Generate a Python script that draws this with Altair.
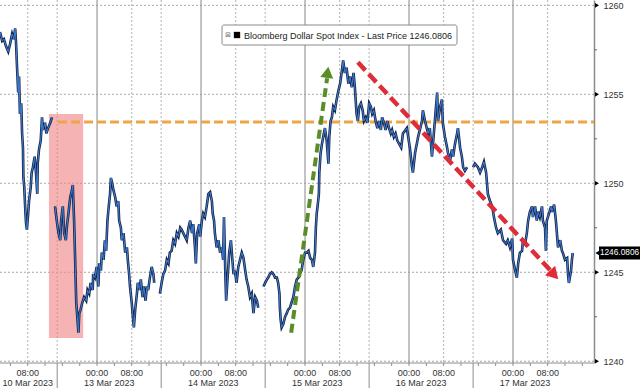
import altair as alt
import pandas as pd
import numpy as np

# ---- price series (x = chart hours from 13 Mar 00:00, weekend removed) ----
hours = [
    -22.4, -21.9, -21.5, -21.0, -20.5, -20.1, -19.6, -19.2, -18.9, -18.7,
    -18.5, -18.2, -18.0, -17.8, -17.5, -17.3, -17.1, -17.0, -16.8, -16.6,
    -16.4, -16.2, -15.9, -15.7, -15.3, -15.1, -14.8, -14.4, -14.1, -13.8,
    -13.7, -13.4, -13.0, -12.7, -12.5, -12.0, -11.7, -11.3, -10.8, -10.4,
    -9.7, -9.3, -8.9, -8.5, -8.3, -7.9, -7.6, -7.2, -7.0, -6.6,
    -6.2, -5.8, -5.6, -5.5, -5.3, -5.1, -4.9, -4.8, -4.5, -4.3,
    -4.1, -3.8, -3.4, -3.0, -2.5, -2.2, -1.8, -1.5, -1.0, -0.9,
    -0.5, -0.1, 0.3, 0.5, 0.9, 1.1, 1.5, 1.8, 2.1, 2.4,
    2.7, 3.0, 3.2, 3.5, 3.8, 4.2, 4.5, 4.9, 5.1, 5.5,
    5.7, 6.1, 6.5, 6.9, 7.1, 7.4, 7.6, 8.0, 8.2, 8.5,
    8.8, 9.2, 9.4, 9.8, 10.1, 10.5, 10.8, 11.2, 11.5, 11.8,
    12.2, 12.6, 13.0, 13.2,
    14.5, 14.9, 15.3, 15.7, 16.1, 16.5, 16.8, 17.2, 17.6, 18.0,
    18.4, 18.8, 19.2, 19.5, 19.9, 20.3, 20.7, 21.1, 21.5, 21.9,
    22.2, 22.6, 22.8, 23.1, 23.6, 23.8, 24.2, 24.5, 24.9, 25.3,
    25.7, 26.1, 26.5, 26.7, 27.0, 27.2, 27.6, 28.0, 28.4, 28.8,
    29.1, 29.3, 29.6, 29.8, 30.1, 30.3, 30.5, 30.9, 31.1, 31.5,
    31.8, 32.2, 32.6, 33.0, 33.4, 33.8, 34.2, 34.5, 34.9, 35.3,
    35.7, 36.1, 36.5, 36.9, 37.2,
    38.4, 38.8, 39.2, 39.5, 39.9, 40.3, 40.7, 41.1, 41.5, 41.8,
    42.1, 42.2, 42.4, 42.6, 43.0, 43.4, 43.8, 44.1, 44.5, 44.9,
    45.3, 45.7, 46.1, 46.5, 46.8, 47.2, 47.6, 48.0, 48.4, 48.8,
    49.2, 49.6, 49.9, 50.3, 50.5, 50.7, 50.9, 51.2, 51.3, 51.6,
    51.9, 52.2, 52.6, 53.0, 53.4, 53.6, 53.9, 54.2, 54.5, 54.9,
    55.3, 55.7, 56.1, 56.5, 56.8, 57.2, 57.6, 58.0, 58.4, 58.8,
    59.2, 59.5, 59.9, 60.2, 60.5, 60.9, 61.3, 61.6, 62.0, 62.4,
    62.8, 63.2, 63.5, 63.9, 64.3, 64.7, 65.1, 65.5, 65.8, 66.2,
    66.6, 67.0, 67.4, 67.8, 68.1, 68.5, 68.9, 69.3, 70.2, 70.6,
    71.5, 72.2, 72.7, 72.9, 73.4, 74.1, 74.5, 75.0, 75.2, 75.7,
    76.4, 76.8, 77.3, 77.8, 78.5, 78.7, 79.2, 79.6, 79.8, 80.3,
    80.8, 81.0, 81.5, 81.9, 82.2, 82.6, 83.1, 83.3, 83.8, 84.2,
    84.5, 84.9, 85.4,
    86.8, 87.2, 87.9, 88.4, 88.9, 89.3, 89.8, 90.2, 90.7, 91.2,
    91.6, 92.1, 92.5, 93.2, 93.7, 94.4, 94.8, 95.3, 95.8, 96.0,
    96.5, 96.9, 97.2, 97.6, 98.1, 98.3, 98.8, 99.2, 99.5, 99.9,
    100.4, 100.6, 101.1, 101.5, 101.8, 102.2, 102.7, 102.9, 103.4, 103.6,
    103.8, 104.3, 104.8, 105.0, 105.5, 105.9, 106.2, 106.4, 106.9, 107.3,
    107.5, 108.0, 108.5, 108.7, 108.9, 109.4, 109.6, 109.8,
]
price = [
    1258.5, 1258.0, 1258.1, 1257.7, 1257.4, 1257.8, 1258.4, 1258.1, 1258.7, 1257.9,
    1256.7, 1255.1, 1256.0, 1253.9, 1254.5, 1252.8, 1252.0, 1250.3, 1249.8, 1248.7,
    1247.8, 1247.4, 1248.3, 1249.0, 1249.8, 1250.6, 1250.9, 1251.5, 1250.6, 1249.4,
    1251.1, 1251.9, 1252.4, 1253.7, 1253.0, 1253.4, 1252.8, 1253.1, 1253.4, 1253.7,
    1248.7, 1247.9, 1247.2, 1246.8, 1247.9, 1248.7, 1247.2, 1246.8, 1247.5, 1248.3,
    1249.2, 1249.6, 1249.9, 1249.2, 1247.9, 1246.1, 1244.2, 1243.3, 1242.3, 1241.6,
    1242.7, 1242.9, 1243.3, 1243.6, 1243.4, 1244.0, 1243.8, 1244.4, 1244.0, 1244.9,
    1244.7, 1245.3, 1244.2, 1245.5, 1245.1, 1246.1, 1245.7, 1246.8, 1246.2, 1247.9,
    1248.7, 1249.4, 1250.3, 1250.0, 1249.6, 1249.2, 1248.7, 1249.0, 1247.9, 1247.5,
    1246.8, 1247.2, 1246.1, 1246.4, 1245.7, 1244.9, 1244.2, 1243.3, 1242.7, 1241.9,
    1242.9, 1243.8, 1244.4, 1244.0, 1244.6, 1243.6, 1244.2, 1243.4, 1244.2, 1244.0,
    1244.7, 1245.3, 1244.9, 1244.4,
    1243.8, 1244.4, 1244.9, 1245.1, 1245.7, 1245.5, 1246.1, 1246.2, 1246.8, 1246.6,
    1247.2, 1247.0, 1247.5, 1247.4, 1247.2, 1247.0, 1246.8, 1247.5, 1247.9, 1247.2,
    1247.7, 1246.4, 1245.5, 1247.2, 1247.7, 1247.0, 1247.9, 1248.3, 1248.1, 1248.7,
    1249.4, 1249.5, 1249.0, 1248.3, 1247.9, 1247.2, 1246.4, 1246.8, 1246.1, 1246.4,
    1245.7, 1248.1, 1245.0, 1243.4, 1244.6, 1245.3, 1246.1, 1246.8, 1246.1, 1244.9,
    1245.1, 1244.4, 1245.3, 1245.7, 1246.1, 1245.8, 1245.1, 1244.6, 1244.2, 1243.6,
    1243.8, 1242.7, 1243.6, 1243.4, 1243.0,
    1244.2, 1244.4, 1244.6, 1244.7, 1244.9, 1245.0, 1244.9, 1244.7, 1244.7, 1244.4,
    1243.8, 1243.0, 1242.3, 1241.9, 1242.1, 1242.5, 1242.7, 1242.9, 1243.0, 1243.3,
    1243.6, 1244.2, 1244.6, 1244.7, 1244.9, 1245.1, 1245.7, 1246.1, 1246.1, 1246.2,
    1245.8, 1245.7, 1245.3, 1246.1, 1247.5, 1248.3, 1248.7, 1249.4, 1250.6, 1251.7,
    1252.2, 1252.6, 1253.1, 1252.4, 1251.1, 1252.6, 1253.5, 1253.7, 1254.3, 1254.1,
    1254.7, 1255.2, 1255.6, 1256.3, 1256.9, 1256.2, 1256.5, 1255.6, 1256.0, 1255.4,
    1256.2, 1255.4, 1253.9, 1253.5, 1254.3, 1254.5, 1254.1, 1253.5, 1253.7, 1253.4,
    1254.5, 1254.3, 1253.9, 1254.1, 1253.5, 1253.1, 1253.5, 1253.0, 1253.7, 1253.4,
    1253.0, 1253.5, 1253.1, 1252.8, 1253.0, 1252.6, 1252.8, 1252.4, 1252.0, 1252.8,
    1253.1, 1252.0, 1250.9, 1250.6, 1251.7, 1252.6, 1253.0, 1253.5, 1254.1, 1253.5,
    1252.8, 1253.1, 1251.5, 1253.0, 1255.1, 1253.5, 1254.3, 1254.7, 1253.4, 1252.6,
    1252.0, 1251.7, 1251.3, 1251.9, 1251.5, 1252.2, 1252.8, 1253.1, 1252.0, 1251.5,
    1250.9, 1250.7, 1250.9,
    1250.9, 1251.1, 1250.9, 1250.6, 1250.9, 1251.2, 1250.6, 1249.4, 1249.0, 1248.7,
    1248.1, 1247.5, 1247.2, 1247.4, 1246.8, 1246.6, 1246.8, 1246.4, 1246.9, 1245.7,
    1245.1, 1244.7, 1245.5, 1246.1, 1246.2, 1246.8, 1246.6, 1247.2, 1247.9, 1248.4,
    1248.7, 1248.1, 1248.7, 1247.9, 1248.4, 1248.1, 1248.7, 1247.9, 1247.5, 1246.2,
    1247.9, 1248.3, 1248.7, 1248.4, 1248.8, 1247.9, 1247.0, 1246.4, 1246.8, 1246.2,
    1246.1, 1245.7, 1245.8, 1244.9, 1244.4, 1245.1, 1245.7, 1246.0806,
]
session_starts = [-9.7, 14.5, 38.4, 86.8]

# ---- axes / labels ----
y_ticks = [1240, 1245, 1250, 1255, 1260]
y_minor = [1242.5, 1247.5, 1252.5, 1257.5]
x_ticks = list(range(-20, 113, 4))
time_pos = [-16, 0, 8, 24, 32, 48, 56, 72, 80, 96, 104]
time_labels = ["08:00", "00:00", "08:00", "00:00", "08:00", "00:00", "08:00", "00:00", "08:00", "00:00", "08:00"]
midnights = [0, 24, 48, 72, 96]
eights = [-16, 8, 32, 56, 80, 104]
separators = [-9.2, 14.8, 38.8, 62.8, 86.8]
day_labels = ["10 Mar 2023", "13 Mar 2023", "14 Mar 2023", "15 Mar 2023", "16 Mar 2023", "17 Mar 2023"]
day_centers = [-16.0, 2.8, 26.8, 50.8, 74.8, 98.8]
legend_text = "Bloomberg Dollar Spot Index - Last Price 1246.0806"
last_price = 1246.0806
last_label = "1246.0806"

# ---- annotations ----
level = 1253.45
level_t = [-9.0, 114.7]
box_t = [-11.1, -3.2]
box_v = [1241.3, 1253.9]
green_t = [44.8, 53.1]
green_v = [1241.6, 1255.9]
green_head = [53.2, 1256.24]
red_t = [60.2, 104.8]
red_v = [1256.8, 1245.06]
red_head = [105.5, 1244.85]

W, H = 594, 363
FONT = "Liberation Sans"
AXIS_GRAY = "#8c8c8c"
xs = alt.Scale(domain=[-22.4, 114.7], nice=False, zero=False)
ys = alt.Scale(domain=[1239.9, 1260.3], nice=False, zero=False)

seg = np.searchsorted(np.array(session_starts), np.array(hours), side="right")
df = pd.DataFrame({"t": hours, "v": price, "seg": seg})

y_axis = alt.Axis(orient="right", values=y_ticks, title=None, grid=False, ticks=False,
                  domainColor=AXIS_GRAY, domainWidth=1.5, labelPadding=9, labelFontSize=9,
                  labelColor="#333333", labelFont=FONT, format="d")


def X(f):
    return alt.X(f, type="quantitative", scale=xs, axis=None)


def Y(f):
    return alt.Y(f, type="quantitative", scale=ys, axis=y_axis)


one = pd.DataFrame({"a": [0]})

hgrid = alt.Chart(pd.DataFrame({"v": y_ticks})).mark_rule(
    color="#a8a8a8", strokeDash=[2, 2], strokeWidth=1).encode(y=Y("v"))
vmid = alt.Chart(pd.DataFrame({"t": midnights})).mark_rule(
    color="#9a9a9a", strokeWidth=1.2).encode(x=X("t"))
vdot = alt.Chart(pd.DataFrame({"t": eights + separators})).mark_rule(
    color="#b0b0b0", strokeDash=[2, 2], strokeWidth=1).encode(x=X("t"))

pink = alt.Chart(pd.DataFrame({"t1": [box_t[0]], "t2": [box_t[1]], "v1": [box_v[0]], "v2": [box_v[1]]})).mark_rect(
    color="#F08080", opacity=0.6).encode(x=X("t1"), x2="t2", y=Y("v1"), y2="v2")

orange = alt.Chart(pd.DataFrame({"t": level_t, "v": [level, level]})).mark_line(
    color="#EEA545", strokeWidth=3, strokeDash=[9, 4]).encode(x=X("t"), y=Y("v"))

line_dark = alt.Chart(df).mark_line(color="#162447", strokeWidth=2.6, strokeJoin="miter").encode(
    x=X("t"), y=Y("v"), detail="seg:N")
line_blue = alt.Chart(df).mark_line(color="#3f7fd6", strokeWidth=1.0).encode(
    x=X("t"), y=Y("v"), detail="seg:N")

green = alt.Chart(pd.DataFrame({"t": green_t, "v": green_v})).mark_line(
    color="#5B8D27", strokeWidth=4, strokeDash=[9, 5]).encode(x=X("t"), y=Y("v"))
green_h = alt.Chart(pd.DataFrame({"t": [green_head[0]], "v": [green_head[1]]})).mark_point(
    shape="triangle-up", filled=True, color="#5B8D27", size=170, angle=8, opacity=1).encode(x=X("t"), y=Y("v"))
red = alt.Chart(pd.DataFrame({"t": red_t, "v": red_v})).mark_line(
    color="#DE2C38", strokeWidth=4.5, strokeDash=[11, 5]).encode(x=X("t"), y=Y("v"))
red_h = alt.Chart(pd.DataFrame({"t": [red_head[0]], "v": [red_head[1]]})).mark_point(
    shape="triangle-up", filled=True, color="#DE2C38", size=190, angle=137, opacity=1).encode(x=X("t"), y=Y("v"))

# legend box
lbox = alt.Chart(one).mark_rect(fill="white", stroke="#8a8a8a", strokeWidth=1, cornerRadius=2).encode(
    x=alt.value(222), x2=alt.value(457), y=alt.value(25), y2=alt.value(45))
licon = alt.Chart(one).mark_text(text="⊠", fontSize=7, color="#777777", font="DejaVu Sans").encode(
    x=alt.value(228), y=alt.value(35))
lsq = alt.Chart(one).mark_square(color="black", size=40, filled=True, opacity=1).encode(
    x=alt.value(237), y=alt.value(35))
ltxt = alt.Chart(pd.DataFrame({"s": [legend_text]})).mark_text(
    align="left", baseline="middle", fontSize=9, font=FONT, color="#222222").encode(
    x=alt.value(244), y=alt.value(35.5), text="s:N")

# right axis decorations
tri = alt.Chart(pd.DataFrame({"v": y_ticks})).mark_point(
    shape="triangle-right", filled=True, color="black", size=22, opacity=1).encode(
    x=alt.value(W + 3), y=Y("v"))
minor = alt.Chart(pd.DataFrame({"v": y_minor})).mark_rule(color="#666666", strokeWidth=1).encode(
    x=alt.value(W), x2=alt.value(W + 3), y=Y("v"))
tag = alt.Chart(pd.DataFrame({"v": [last_price]})).mark_rule(color="black", strokeWidth=13).encode(
    x=alt.value(W + 5), x2=alt.value(W + 46), y=Y("v"))
tag_tip = alt.Chart(pd.DataFrame({"v": [last_price]})).mark_point(
    shape="triangle-left", filled=True, color="black", size=70, opacity=1).encode(
    x=alt.value(W + 5), y=Y("v"))
tag_txt = alt.Chart(pd.DataFrame({"v": [last_price], "s": [last_label]})).mark_text(
    color="white", fontSize=8.3, font=FONT, align="center", baseline="middle").encode(
    x=alt.value(W + 25.5), y=Y("v"), text="s:N")

# bottom time axis (drawn by hand)
xdomain = alt.Chart(one).mark_rule(color=AXIS_GRAY, strokeWidth=1).encode(
    x=alt.value(0), x2=alt.value(W), y=alt.value(H))
xticks = alt.Chart(pd.DataFrame({"t": x_ticks})).mark_rule(color=AXIS_GRAY, strokeWidth=1).encode(
    x=X("t"), y=alt.value(H), y2=alt.value(H + 3))
times = alt.Chart(pd.DataFrame({"t": time_pos, "s": time_labels})).mark_text(
    fontSize=9, font=FONT, color="#333333", align="center", baseline="alphabetic").encode(
    x=X("t"), y=alt.value(H + 13), text="s:N")
dates = alt.Chart(pd.DataFrame({"t": day_centers, "s": day_labels})).mark_text(
    fontSize=9, font=FONT, color="#333333", align="center", baseline="alphabetic").encode(
    x=X("t"), y=alt.value(H + 23), text="s:N")
seps = alt.Chart(pd.DataFrame({"t": separators})).mark_rule(color=AXIS_GRAY, strokeWidth=1).encode(
    x=X("t"), y=alt.value(H), y2=alt.value(H + 25))

chart = alt.layer(
    hgrid, vmid, vdot, pink, orange, line_dark, line_blue, green, green_h, red, red_h,
    lbox, licon, lsq, ltxt, tri, minor, tag, tag_tip, tag_txt,
    xdomain, xticks, times, dates, seps
).properties(
    width=W, height=H,
    autosize=alt.AutoSizeParams(type="none"),
    padding={"left": 0, "top": 0, "right": 46, "bottom": 25},
    background="white",
).configure_view(stroke=None)

chart.save("out.html", embed_options={"renderer": "svg", "actions": False})
